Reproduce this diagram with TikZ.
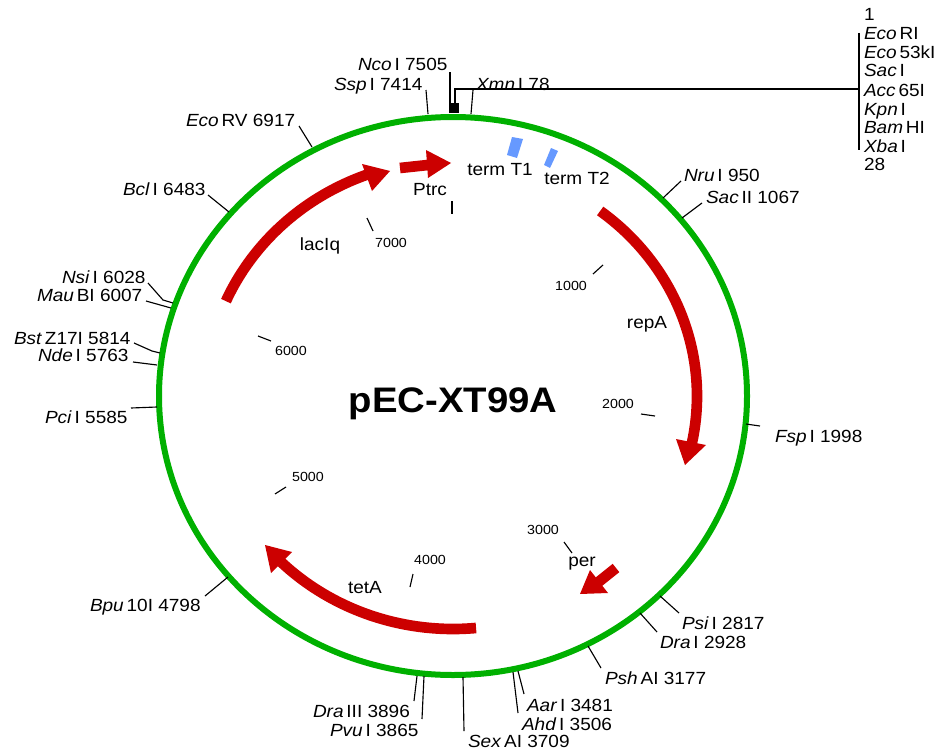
\documentclass[tikz,border=0pt]{standalone}
\usepackage{fontspec}
\setmainfont[FakeStretch=1.08]{Liberation Sans}
\definecolor{ringgreen}{RGB}{0,176,0}
\definecolor{genered}{RGB}{204,0,0}
\definecolor{termblue}{RGB}{102,153,255}
\newcommand{\sitelabel}[4]{\node[sitetext] (#1) at (#2) {\textit{#3}\hspace{.16em}#4};}
\tikzset{
  sitetext/.style={anchor=base west,inner sep=0pt,outer sep=0pt,font=\fontsize{13.2pt}{15pt}\selectfont},
  featuretext/.style={anchor=center,inner sep=0pt,outer sep=0pt,font=\fontsize{13.2pt}{15pt}\selectfont},
  scaletext/.style={anchor=center,inner sep=0pt,outer sep=0pt,font=\fontsize{9.9pt}{12pt}\selectfont},
  tick/.style={draw=black,line width=.85pt},
  shaft/.style={draw=genered,line width=8pt},
  head/.style={fill=genered,draw=none},
  term/.style={fill=termblue,draw=none}
}
\begin{document}
\begin{tikzpicture}[x=0.75pt,y=-0.75pt]
\path[use as bounding box] (0,0) rectangle (938,749);
% ring
\draw[ringgreen,line width=4.5pt] (453,396) ellipse [x radius=294,y radius=279];
% gene arrows
\draw[shaft] plot[domain=-52.9:12.5,samples=60] ({453+244*cos(\x)},{396+232*sin(\x)});
\fill[head] (676,439) -- (706,445) -- (685,465) -- cycle;
\draw[shaft] plot[domain=203.7:250,samples=60] ({453+248*cos(\x)},{396+236*sin(\x)});
\fill[head] (362,164) -- (372,191) -- (390,171) -- cycle;
\draw[shaft] (400,168) -- (428,165);
\fill[head] (426,150) -- (428,178) -- (451,163) -- cycle;
\draw[shaft] plot[domain=84.6:134.5,samples=60] ({453+245*cos(\x)},{396+233*sin(\x)});
\fill[head] (292,552) -- (271,573) -- (265,545) -- cycle;
\draw[shaft] (616,568) -- (596,584);
\fill[head] (590,570) -- (608,593) -- (580,594) -- cycle;
% terminators
\fill[term] (512,137) -- (523,139) -- (517,158) -- (507,155) -- cycle;
\fill[term] (551,148) -- (558,151) -- (550,168) -- (544,165) -- cycle;
% outer ticks
\draw[tick] (471,114) -- (473,90);
\draw[tick] (428,114) -- (426,90);
\draw[tick] (450,113) -- (450,72);
\draw[tick] (663,198) -- (681,181);
\draw[tick] (682,218) -- (702,203);
\draw[tick] (746,424) -- (760,426);
\draw[tick] (660,596) -- (679,613);
\draw[tick] (640,613) -- (657,632);
\draw[tick] (588,646) -- (601,668);
\draw[tick] (518,671) -- (524,694);
\draw[tick] (513,672) -- (518,713);
\draw[tick] (463,677) -- (464,731);
\draw[tick] (424,676) -- (422,719);
\draw[tick] (417,676) -- (414,701);
\draw[tick] (228,577) -- (205,596);
\draw[tick] (157,407) -- (131,408);
\draw[tick] (157,365) -- (133,362);
\draw[tick] (160,353) -- (152,351) -- (134,343);
\draw[tick] (171,308) -- (146,301);
\draw[tick] (173,303) -- (163,300) -- (148,283);
\draw[tick] (229,212) -- (208,195);
\draw[tick] (312,147) -- (299,126);
% MCS
\fill[black] (450,103) rectangle (459,113);
\draw[tick] (455,103) -- (455,89) -- (859,89);
\draw[tick] (859,33) -- (859,150);
% inner ticks
\draw[tick] (367,218) -- (373,231);
\draw[tick] (452,201) -- (452,214);
\draw[tick] (593,274) -- (603,265);
\draw[tick] (641,414) -- (655,416);
\draw[tick] (564,542) -- (572,553);
\draw[tick] (410,587) -- (413,574);
\draw[tick] (275,494) -- (286,487);
\draw[tick] (258,336) -- (271,341);
% scale labels
\node[scaletext] (s7000) at (391,243) {7000};
\node[scaletext] (s1000) at (571,286) {1000};
\node[scaletext] (s2000) at (618,404) {2000};
\node[scaletext] (s3000) at (543,530) {3000};
\node[scaletext] (s4000) at (430,560) {4000};
\node[scaletext] (s5000) at (308,477) {5000};
\node[scaletext] (s6000) at (291,351) {6000};
% feature labels
\node[featuretext] (ptrc) at (430,190) {Ptrc};
\node[featuretext] (t1) at (500,170) {term T1};
\node[featuretext] (t2) at (577,178) {term T2};
\node[featuretext] (laciq) at (320,246) {lacIq};
\node[featuretext] (repa) at (647,324) {repA};
\node[featuretext] (teta) at (365,588) {tetA};
\node[featuretext] (per) at (582,564) {per};
% title
\node[anchor=center,inner sep=0pt,font=\fontsize{26.6pt}{30pt}\selectfont\bfseries] (title) at (453,404) {pEC-XT99A};
% site labels
\sitelabel{nco}{358,70}{Nco}{I 7505}
\sitelabel{ssp}{334,90}{Ssp}{I 7414}
\sitelabel{xmn}{476,90}{Xmn}{I 78}
\sitelabel{ecorv}{186,126}{Eco}{RV 6917}
\sitelabel{bcl}{123,195}{Bcl}{I 6483}
\sitelabel{nsi}{62,283}{Nsi}{I 6028}
\sitelabel{mau}{37,301}{Mau}{BI 6007}
\sitelabel{bst}{14,344}{Bst}{Z17I 5814}
\sitelabel{nde}{38,361}{Nde}{I 5763}
\sitelabel{pci}{45,423}{Pci}{I 5585}
\sitelabel{bpu}{90,611}{Bpu}{10I 4798}
\sitelabel{nru}{684,181}{Nru}{I 950}
\sitelabel{sac2}{706,203}{Sac}{II 1067}
\sitelabel{fsp}{775,442}{Fsp}{I 1998}
\sitelabel{psi}{682,629}{Psi}{I 2817}
\sitelabel{drai}{660,648}{Dra}{I 2928}
\sitelabel{psh}{605,684}{Psh}{AI 3177}
\sitelabel{aar}{527,711}{Aar}{I 3481}
\sitelabel{ahd}{522,730}{Ahd}{I 3506}
\sitelabel{sex}{468,747}{Sex}{AI 3709}
\sitelabel{pvu}{330,736}{Pvu}{I 3865}
\sitelabel{dra3}{313,717}{Dra}{III 3896}
% MCS labels
\node[sitetext] (m1) at (864,21) {1};
\sitelabel{m2}{864,40}{Eco}{RI}
\sitelabel{m3}{864,59}{Eco}{53kI}
\sitelabel{m4}{864,77}{Sac}{I}
\sitelabel{m5}{864,96}{Acc}{65I}
\sitelabel{m6}{864,115}{Kpn}{I}
\sitelabel{m7}{864,133}{Bam}{HI}
\sitelabel{m8}{864,152}{Xba}{I}
\node[sitetext] (m9) at (864,170) {28};
\end{tikzpicture}
\end{document}
